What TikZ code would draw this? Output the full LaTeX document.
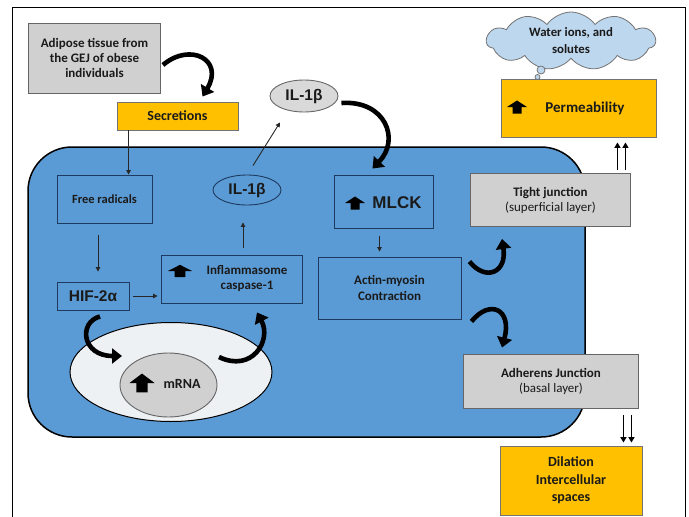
\documentclass[tikz,border=0pt]{standalone}
\usepackage{fontspec}
\setmainfont{Carlito}
\newfontfamily\arialf{Liberation Sans}
\usetikzlibrary{shapes.geometric,shapes.symbols,arrows.meta,calc}
\definecolor{cellblue}{HTML}{5B9BD5}
\definecolor{boxborder}{HTML}{1F3A5F}
\definecolor{orng}{HTML}{FFC000}
\definecolor{gbox}{HTML}{D0D0D0}
\definecolor{nuc}{HTML}{EEF1F4}
\definecolor{cloudc}{HTML}{BDD7EE}
\definecolor{txt}{HTML}{1A1A1A}
\begin{document}
\begin{tikzpicture}[x=1pt,y=-1pt,
  every node/.style={text=txt, font=\bfseries\fontsize{13}{15}\selectfont, align=center, inner sep=0pt},
  bluebox/.style={draw=boxborder, fill=cellblue, line width=0.9pt},
  graybox/.style={draw=black!60, fill=gbox, line width=0.9pt},
  orangebox/.style={draw=black!55, fill=orng, line width=0.9pt},
  thinarrow/.style={draw=black!85, line width=0.9pt, -{Triangle[length=4.5pt,width=4.5pt]}},
  bigarrow/.style={draw=black, line width=4.6pt, -{Triangle[length=10pt,width=15pt]}},
  dblarrow/.style={draw=black, line width=1.5pt, -{Triangle[length=5.5pt,width=6pt]}},
  arialbig/.style={font=\arialf\bfseries\fontsize{#1}{#1}\selectfont},
  upicon/.pic={\fill[black] (0,-6.5) -- (10,0) -- (4.5,0) -- (4.5,6.5) -- (-4.5,6.5) -- (-4.5,0) -- (-10,0) -- cycle;}
]
\useasboundingbox (0,0) rectangle (689,517);
% frame
\draw[line width=1pt] (12,517) -- (12,7) -- (685,7) -- (685,517);
% cell
\draw[fill=cellblue, line width=1.5pt, rounded corners=44pt] (28,147) rectangle (585,437);
% nucleus
\node[ellipse, draw=black, fill=nuc, line width=1pt, minimum width=202pt, minimum height=99pt] (nucleus) at (171,372) {};
\node[ellipse, draw=black!60, fill=gbox, line width=0.9pt, minimum width=97pt, minimum height=64pt] (mrna) at (168.5,385) {};
\pic[xscale=1.25, yscale=1.45] at (142,383) {upicon};
\node[font=\bfseries\fontsize{14}{16}\selectfont] (mrnatxt) at (182,384) {mRNA};

% boxes
\node[graybox, minimum width=132pt, minimum height=70pt] (adipose) at (94.5,58) {Adipose tissue from\\the GEJ of obese\\individuals};
\node[orangebox, minimum width=121pt, minimum height=28pt, font=\bfseries\fontsize{14}{16}\selectfont] (secr) at (177.5,116) {Secretions};
\node[bluebox, minimum width=95pt, minimum height=48pt, font=\bfseries\fontsize{12.5}{15}\selectfont] (free) at (104.5,199) {Free radicals};
\node[bluebox, minimum width=72pt, minimum height=28pt, arialbig=15.5] (hif) at (93,296) {HIF-2α};
\node[bluebox, minimum width=141pt, minimum height=48pt] (infl) at (231.5,279.5) {};
\pic[xscale=1.2, yscale=0.95] at (180,271) {upicon};
\node (infltxt) at (247,278) {Inflammasome\\caspase-1};
\node[ellipse, draw=boxborder, fill=cellblue, line width=0.9pt, minimum width=68pt, minimum height=30pt, arialbig=15.5] (ilin) at (247,190) {IL-1β};
\node[ellipse, draw=black!60, fill=gbox!80!white, line width=0.9pt, minimum width=68pt, minimum height=32pt, arialbig=15.5] (iltop) at (304,96) {IL-1β};
\node[bluebox, minimum width=99pt, minimum height=53pt] (mlck) at (383.5,201.5) {};
\pic at (355,203) {upicon};
\node[arialbig=17] (mlcktxt) at (397,203) {MLCK};
\node[bluebox, minimum width=143pt, minimum height=62pt, font=\bfseries\fontsize{13}{16}\selectfont] (actin) at (389.5,288) {Actin-myosin\\Contraction};
\node[graybox, minimum width=160pt, minimum height=53pt] (tj) at (550.5,200) {Tight junction\\\mdseries (superficial layer)};
\node[graybox, minimum width=175pt, minimum height=54pt] (adh) at (551,381) {Adherens Junction\\\mdseries (basal layer)};
\node[orangebox, minimum width=142pt, minimum height=69pt, font=\bfseries\fontsize{14}{17.5}\selectfont] (dil) at (571,480.5) {Dilation\\Intercellular\\spaces};
\node[orangebox, minimum width=155pt, minimum height=58pt] (perm) at (578.5,108) {};
\pic at (517,107) {upicon};
\node[font=\bfseries\fontsize{15}{17}\selectfont] (permtxt) at (585,108) {Permeability};
\node[cloud, cloud puffs=11, cloud puff arc=110, aspect=2.9, draw=black!55, fill=cloudc, line width=0.8pt, minimum width=169pt, minimum height=58pt, font=\bfseries\fontsize{12.8}{17}\selectfont] (cloud) at (571,41) {Water ions, and\\solutes};
\node[circle, draw=black!55, fill=cloudc, line width=0.8pt, minimum size=8pt] (bub1) at (541,70) {};
\node[circle, draw=black!55, fill=cloudc, line width=0.8pt, minimum size=5pt] (bub2) at (537.5,77) {};

% thin arrows
\draw[thinarrow] ([xshift=12pt]secr.south west) -- ([xshift=12pt]secr.south west |- free.north);
\draw[thinarrow] ($(free.south)+(-6.5,12)$) -- ($(hif.north)+(5,-10)$);
\draw[thinarrow] ($(hif.east)+(4,0)$) -- ($(infl.west |- hif.east)+(-3,0)$);
\draw[thinarrow] ($(infl.north)+(11.5,-7)$) -- ($(ilin.south)+(-4,17)$);
\draw[thinarrow] ($(ilin.north)+(6,-9)$) -- ($(iltop.south)+(-24,10)$);
\draw[thinarrow] ($(mlck.south)+(-4,8)$) -- ($(actin.north)+(-10,-5)$);
% double arrows
\draw[dblarrow] ($(tj.north east)+(-13.5,-3)$) -- ($(perm.south east)+(-39,5)$);
\draw[dblarrow] ($(tj.north east)+(-5.5,-3)$) -- ($(perm.south east)+(-31,5)$);
\draw[dblarrow] ($(adh.south east)+(-15.5,7)$) -- ($(dil.north east)+(-19,-3)$);
\draw[dblarrow] ($(adh.south east)+(-7.5,7)$) -- ($(dil.north east)+(-11,-3)$);

% big curved arrows
\draw[bigarrow] ($(adipose.east)+(2,7)$) .. controls +(27,-23) and +(22,-37) .. ($(secr.north)+(25,-5)$);
\draw[bigarrow] ($(iltop.east)+(3,7)$) .. controls +(44,-3) and +(28,-29) .. ($(mlck.north)+(-11,-6)$);
\draw[bigarrow] ($(actin.north east)+(8,5)$) .. controls +(16,20) and +(5,34) .. ($(tj.south west)+(32,12)$);
\draw[bigarrow] ($(actin.south east)+(10,2)$) .. controls +(19,-23) and +(10,-38) .. ($(adh.north west)+(39,-6)$);
\draw[bigarrow] ($(hif.south)+(7,6)$) .. controls +(-22,6) and +(-40,0) .. ($(nucleus.center)+(-49,-16)$);
\draw[bigarrow] ($(nucleus.center)+(48,-15)$) .. controls +(33,16) and +(15,28) .. ($(infl.south)+(25.5,8.5)$);
\end{tikzpicture}
\end{document}
